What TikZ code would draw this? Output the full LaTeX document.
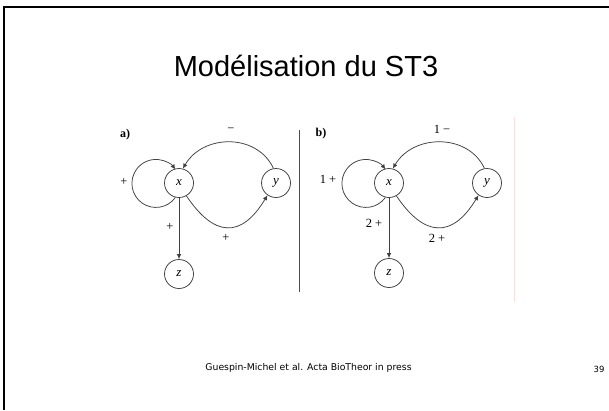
\documentclass[tikz,border=0pt]{standalone}
\usepackage{fontspec}
\setmainfont{Liberation Serif}
\newfontfamily\titlefont{Liberation Sans}
\newfontfamily\footfont{DejaVu Sans}
\usetikzlibrary{arrows.meta}
\begin{document}
\begin{tikzpicture}[x=1pt,y=-1pt,
  nd/.style={circle,draw=black!75,line width=0.75pt,minimum size=29pt,inner sep=0pt,font=\fontsize{13}{13}\selectfont\itshape},
  ed/.style={draw=black!75,line width=0.75pt,-{Latex[length=5pt,width=4.5pt]}},
  lb/.style={font=\fontsize{12.5}{12.5}\selectfont,inner sep=0pt}]
\useasboundingbox (0,0) rectangle (609,410);
\fill[white] (0,0) rectangle (609,410);
% slide border
\draw[line width=2.5pt] (4,410) -- (4,7) -- (609,7);
% title
\node[font=\titlefont\fontsize{29}{29}\selectfont,inner sep=0pt] (title) at (306,66) {Modélisation du ST3};
% separators
\draw[black!70,line width=0.8pt] (299,130) -- (299,292);
\draw[red!12,line width=1pt] (514,117) -- (514,302);
% panel a
\node[font=\bfseries\fontsize{12}{12}\selectfont,inner sep=0pt] (la) at (125,135) {a)};
\node[nd] (xa) at (179,183) {x};
\node[nd] (ya) at (276,183) {y};
\node[nd] (za) at (179,274) {z};
\draw[ed] (xa.256) arc[start angle=35.7,end angle=324.3,radius=24];
\draw[ed] (ya.100) .. controls (257,133) and (203,134) .. (xa.75);
\draw[ed] (xa.-60) .. controls (214,237) and (241,239) .. (ya.-125);
\draw[ed] (xa) -- (za);
\node[lb] (pa1) at (124,182) {+};
\node[lb] (ma) at (231,130) {−};
\node[lb] (pa2) at (226,238) {+};
\node[lb] (pa3) at (170,227) {+};
% panel b
\node[font=\bfseries\fontsize{12}{12}\selectfont,inner sep=0pt] (lb) at (321,134) {b)};
\node[nd] (xb) at (389,183) {x};
\node[nd] (yb) at (487,183) {y};
\node[nd] (zb) at (389,273) {z};
\draw[ed] (xb.256) arc[start angle=35.7,end angle=324.3,radius=24];
\draw[ed] (yb.100) .. controls (468,133) and (413,134) .. (xb.75);
\draw[ed] (xb.-60) .. controls (424,237) and (452,239) .. (yb.-125);
\draw[ed] (xb) -- (zb);
\node[lb] (pb1) at (328,179) {1 +};
\node[lb] (mb) at (442,129) {1 −};
\node[lb] (pb2) at (437,238) {2 +};
\node[lb] (pb3) at (374,223) {2 +};
% footer
\node[font=\footfont\fontsize{9.3}{9.3}\selectfont,inner sep=0pt] (foot) at (308.5,368) {Guespin-Michel et al. Acta BioTheor in press};
\node[font=\footfont\fontsize{8.5}{8.5}\selectfont,inner sep=0pt] (num) at (599,369) {39};
\end{tikzpicture}
\end{document}
